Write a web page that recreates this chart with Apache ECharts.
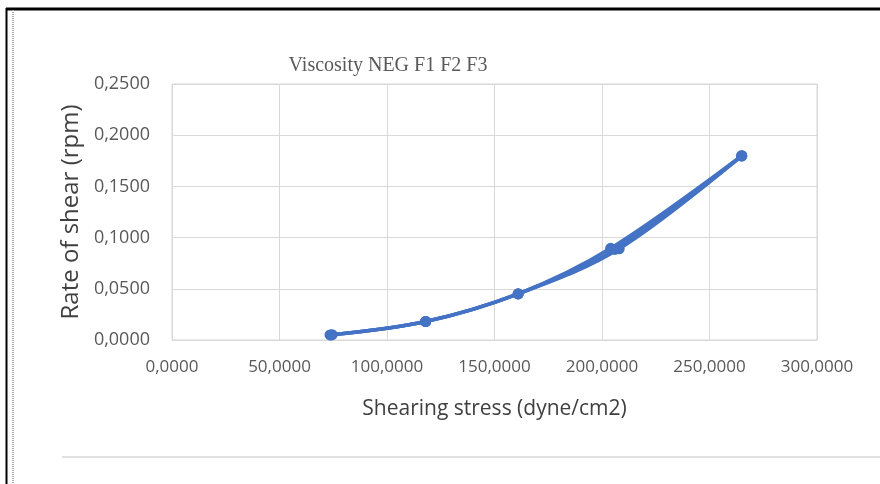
<!DOCTYPE html>
<html>
<head>
<meta charset="utf-8">
<script src="https://cdn.jsdelivr.net/npm/echarts@6/dist/echarts.min.js"></script>
<style>html,body{margin:0;padding:0;background:#fff;}#c{width:880px;height:484px;}</style>
</head>
<body>
<div id="c"></div>
<script>
// Data
const chartTitle = 'Viscosity NEG F1 F2 F3';
const xAxisTitle = 'Shearing stress (dyne/cm2)';
const yAxisTitle = 'Rate of shear (rpm)';
const seriesNames = ['F1', 'F2', 'F3'];
const f1Stress = [74.0, 118.0, 161.0, 204.0, 265.0];
const f1Rate   = [0.0050, 0.0180, 0.0450, 0.0895, 0.1800];
const f2Stress = [73.5, 118.0, 161.0, 208.0, 265.0];
const f2Rate   = [0.0050, 0.0180, 0.0450, 0.0890, 0.1800];
const f3Stress = [74.5, 118.0, 161.0, 206.0, 265.0];
const f3Rate   = [0.0052, 0.0181, 0.0451, 0.0885, 0.1795];
const xTicks = [0, 50, 100, 150, 200, 250, 300];
const yTicks = [0, 0.05, 0.10, 0.15, 0.20, 0.25];

const fmt4 = v => v.toFixed(4).replace('.', ',');
const zip = (xs, ys) => xs.map((x, i) => [x, ys[i]]);
const allSeries = [zip(f1Stress, f1Rate), zip(f2Stress, f2Rate), zip(f3Stress, f3Rate)];

const chart = echarts.init(document.getElementById('c'), null, {renderer: 'canvas'});
const lineColor = '#4472C4';
chart.setOption({
  animation: false,
  backgroundColor: '#ffffff',
  title: {
    text: chartTitle,
    left: 383, top: 51, textAlign: 'center',
    textStyle: {fontFamily: 'Liberation Serif', fontSize: 20, fontWeight: 'normal', color: '#595959'}
  },
  grid: {left: 172, right: 63, top: 84, bottom: 144, containLabel: false},
  xAxis: {
    type: 'value',
    min: xTicks[0], max: xTicks[xTicks.length - 1], interval: xTicks[1] - xTicks[0],
    name: xAxisTitle, nameLocation: 'middle', nameGap: 59,
    nameTextStyle: {fontFamily: 'Open Sans', fontSize: 21, color: '#404040'},
    axisLine: {show: false}, axisTick: {show: false},
    axisLabel: {formatter: fmt4, fontFamily: 'Open Sans', fontSize: 17, color: '#595959', margin: 19},
    splitLine: {show: true, lineStyle: {color: '#d9d9d9', width: 1}}
  },
  yAxis: {
    type: 'value',
    min: yTicks[0], max: yTicks[yTicks.length - 1], interval: yTicks[1] - yTicks[0],
    name: yAxisTitle, nameLocation: 'middle', nameGap: 89, nameRotate: 90,
    nameTextStyle: {fontFamily: 'Open Sans', fontSize: 24, color: '#404040'},
    axisLine: {show: false}, axisTick: {show: false},
    axisLabel: {formatter: fmt4, fontFamily: 'Open Sans', fontSize: 18, color: '#595959', margin: 22},
    splitLine: {show: true, lineStyle: {color: '#d9d9d9', width: 1}}
  },
  series: allSeries.map((d, i) => ({
    name: seriesNames[i],
    type: 'line',
    data: d,
    smooth: 0.35,
    symbol: 'circle', symbolSize: 11,
    lineStyle: {color: lineColor, width: 3.5},
    itemStyle: {color: lineColor}
  })),
  graphic: [
    {type: 'rect', shape: {x: 172, y: 84, width: 645, height: 256}, style: {fill: 'none', stroke: '#d9d9d9', lineWidth: 1}, z: -1, silent: true},
    {type: 'line', shape: {x1: 6, y1: 9, x2: 880, y2: 9}, style: {stroke: '#000', lineWidth: 3}},
    {type: 'line', shape: {x1: 6.5, y1: 8, x2: 6.5, y2: 484}, style: {stroke: '#000', lineWidth: 2}},
    {type: 'line', shape: {x1: 13, y1: 10, x2: 13, y2: 484}, style: {stroke: '#aaa', lineWidth: 2, lineDash: [1, 1]}},
    {type: 'line', shape: {x1: 62, y1: 457, x2: 880, y2: 457}, style: {stroke: '#e0e0e0', lineWidth: 2}}
  ]
});
</script>
</body>
</html>
